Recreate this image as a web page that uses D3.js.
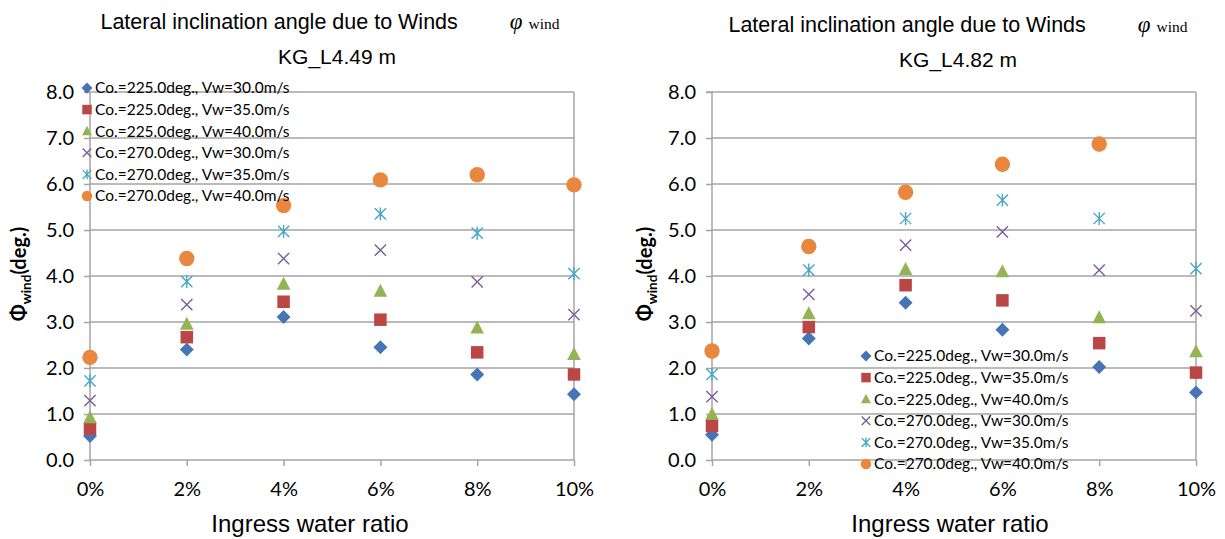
<!DOCTYPE html>
<html><head><meta charset="utf-8">
<script src="https://cdn.jsdelivr.net/npm/d3@7"></script>
<style>body{margin:0;background:#fff}svg{display:block}</style>
</head><body><svg id="c" width="1225" height="539"></svg>
<script>
const categories = [0, 2, 4, 6, 8, 10];
const xTickLabels = ["0%", "2%", "4%", "6%", "8%", "10%"];
const yTicks = [0, 1, 2, 3, 4, 5, 6, 7, 8];
const seriesNames = ["Co.=225.0deg., Vw=30.0m/s","Co.=225.0deg., Vw=35.0m/s","Co.=225.0deg., Vw=40.0m/s","Co.=270.0deg., Vw=30.0m/s","Co.=270.0deg., Vw=35.0m/s","Co.=270.0deg., Vw=40.0m/s"];
// Left chart KG_L4.49 m
const leftS1 = [0.52, 2.40, 3.11, 2.45, 1.86, 1.43];
const leftS2 = [0.68, 2.67, 3.44, 3.05, 2.34, 1.86];
const leftS3 = [0.92, 2.95, 3.82, 3.67, 2.87, 2.29];
const leftS4 = [1.29, 3.38, 4.38, 4.56, 3.87, 3.16];
const leftS5 = [1.72, 3.88, 4.97, 5.35, 4.93, 4.05];
const leftS6 = [2.23, 4.38, 5.53, 6.09, 6.20, 5.98];
// Right chart KG_L4.82 m
const rightS1 = [0.55, 2.64, 3.42, 2.83, 2.02, 1.47];
const rightS2 = [0.74, 2.89, 3.80, 3.47, 2.54, 1.90];
const rightS3 = [0.99, 3.18, 4.14, 4.09, 3.09, 2.35];
const rightS4 = [1.38, 3.60, 4.67, 4.96, 4.13, 3.24];
const rightS5 = [1.86, 4.13, 5.25, 5.65, 5.25, 4.16];
const rightS6 = [2.37, 4.64, 5.82, 6.43, 6.87, null];

const colors = ["#4674B4","#BA4745","#93B453","#7A5E9C","#45A7C3","#E8873D"];
const shapes = ["diamond","square","triangle","x","star","circle"];
const gridColor = "#a5a5a5";

const svg = d3.select("#c");

function marker(g, shape, color, cx, cy, s) {
  if (shape === "diamond") {
    const r = s*0.58;
    g.append("path").attr("d", `M${cx},${cy-r}L${cx+r},${cy}L${cx},${cy+r}L${cx-r},${cy}Z`).attr("fill", color);
  } else if (shape === "square") {
    g.append("rect").attr("x", cx - s*0.5).attr("y", cy - s*0.5).attr("width", s).attr("height", s).attr("fill", color);
  } else if (shape === "triangle") {
    const h = s*1.0, w = s*1.05;
    g.append("path").attr("d", `M${cx},${cy-h*0.58}L${cx+w/2},${cy+h*0.42}L${cx-w/2},${cy+h*0.42}Z`).attr("fill", color);
  } else if (shape === "x") {
    const r = s*0.45;
    g.append("path").attr("d", `M${cx-r},${cy-r}L${cx+r},${cy+r}M${cx-r},${cy+r}L${cx+r},${cy-r}`)
      .attr("stroke", color).attr("stroke-width", 1.4).attr("fill", "none");
  } else if (shape === "star") {
    const r = s*0.45;
    g.append("path").attr("d", `M${cx-r},${cy-r}L${cx+r},${cy+r}M${cx-r},${cy+r}L${cx+r},${cy-r}M${cx},${cy-r*1.15}L${cx},${cy+r*1.15}`)
      .attr("stroke", color).attr("stroke-width", 1.4).attr("fill", "none");
  } else if (shape === "circle") {
    g.append("circle").attr("cx", cx).attr("cy", cy).attr("r", s*0.55).attr("fill", color);
  }
}

function drawChart(opt) {
  const g = svg.append("g");
  const x = d3.scaleLinear().domain([0, 10]).range([opt.x0, opt.x1]);
  const y = d3.scaleLinear().domain([0, 8]).range([460, 92]);

  g.append("g").selectAll("line").data(yTicks.filter(d => d > 0)).join("line")
    .attr("x1", opt.x0).attr("x2", opt.x1).attr("y1", d => y(d)).attr("y2", d => y(d))
    .attr("stroke", gridColor).attr("stroke-width", 1.5);
  g.append("line").attr("x1", opt.x1).attr("x2", opt.x1).attr("y1", y(8)).attr("y2", y(0))
    .attr("stroke", gridColor).attr("stroke-width", 1.5);

  const yAxis = d3.axisLeft(y).tickValues(yTicks).tickFormat(d3.format(".1f")).tickSize(6).tickPadding(10);
  const ya = g.append("g").attr("transform", `translate(${opt.x0},0)`).call(yAxis);
  ya.select(".domain").attr("stroke", gridColor).attr("stroke-width", 1.5).attr("d", `M-6,${y(8)}H0V${y(0)}`);
  ya.selectAll(".tick line").attr("stroke", gridColor).attr("stroke-width", 1.5);
  ya.selectAll(".tick text").attr("font-family", "Lato, 'Noto Sans', sans-serif").attr("font-size", 20).attr("fill", "#000");

  const xAxis = d3.axisBottom(x).tickValues(categories).tickFormat((d, i) => xTickLabels[i]).tickSize(6).tickPadding(16);
  const xa = g.append("g").attr("transform", `translate(0,${y(0)})`).call(xAxis);
  xa.select(".domain").attr("stroke", gridColor).attr("stroke-width", 1.5).attr("d", `M${opt.x0},0H${opt.x1}`);
  xa.selectAll(".tick line").attr("stroke", gridColor).attr("stroke-width", 1.5);
  xa.selectAll(".tick text").attr("font-family", "Lato, 'Noto Sans', sans-serif").attr("font-size", 20).attr("fill", "#000");

  const sizes = [12, 12.5, 13, 12.5, 12.5, 14];
  opt.series.forEach((vals, si) => {
    const sg = g.append("g");
    vals.forEach((v, i) => {
      if (v == null) return;
      marker(sg, shapes[si], colors[si], x(categories[i]), y(v), sizes[si]);
    });
  });

  const lg = g.append("g");
  seriesNames.forEach((name, i) => {
    const ly = opt.legY + i * 21.6;
    marker(lg, shapes[i], colors[i], opt.legX, ly, 9.5);
    lg.append("text").attr("x", opt.legX + 8).attr("y", ly).attr("dy", "0.35em")
      .attr("font-family", "Lato, 'Noto Sans', sans-serif").attr("font-size", 15.5).attr("fill", "#000").text(name);
  });

  const t = g.append("text").attr("x", opt.titleX).attr("y", opt.titleY).attr("text-anchor", "middle")
    .attr("font-family", "'Liberation Sans', Arial, sans-serif").attr("font-size", 21.5).attr("fill", "#000");
  t.append("tspan").text("Lateral inclination angle due to Winds");
  t.append("tspan").attr("dx", 52).attr("font-family", "'Liberation Serif', 'Times New Roman', serif").attr("font-style", "italic").attr("font-size", 23).text("φ");
  t.append("tspan").attr("dx", 6).attr("font-family", "'Liberation Serif', 'Times New Roman', serif").attr("font-size", 15.5).text("wind");

  g.append("text").attr("x", opt.sub).attr("y", opt.titleY + 35).attr("text-anchor", "middle")
    .attr("font-family", "'Liberation Sans', Arial, sans-serif").attr("font-size", 21).attr("fill", "#000").text(opt.subtitle);

  g.append("text").attr("x", opt.xtX).attr("y", 532).attr("text-anchor", "middle")
    .attr("font-family", "'Liberation Sans', Arial, sans-serif").attr("font-size", 24).attr("fill", "#000").text("Ingress water ratio");

  const yt = g.append("text").attr("transform", `translate(${opt.ytX},274) rotate(-90)`).attr("text-anchor", "middle")
    .attr("font-family", "Lato, 'Noto Sans', sans-serif").attr("font-size", 20).attr("font-weight", "bold").attr("fill", "#000");
  yt.append("tspan").text("Φ");
  yt.append("tspan").attr("font-size", 13.5).attr("dy", 5).text("wind");
  yt.append("tspan").attr("dy", -5).text("(deg.)");
}

drawChart({x0: 90, x1: 574, series: [leftS1,leftS2,leftS3,leftS4,leftS5,leftS6],
  legX: 87, legY: 88, titleX: 330, titleY: 29, sub: 337, subtitle: "KG_L4.49 m", xtX: 310, ytX: 26});
drawChart({x0: 712, x1: 1196, series: [rightS1,rightS2,rightS3,rightS4,rightS5,rightS6],
  legX: 866, legY: 356, titleX: 958, titleY: 32, sub: 958, subtitle: "KG_L4.82 m", xtX: 950, ytX: 652});
</script>
</body></html>
